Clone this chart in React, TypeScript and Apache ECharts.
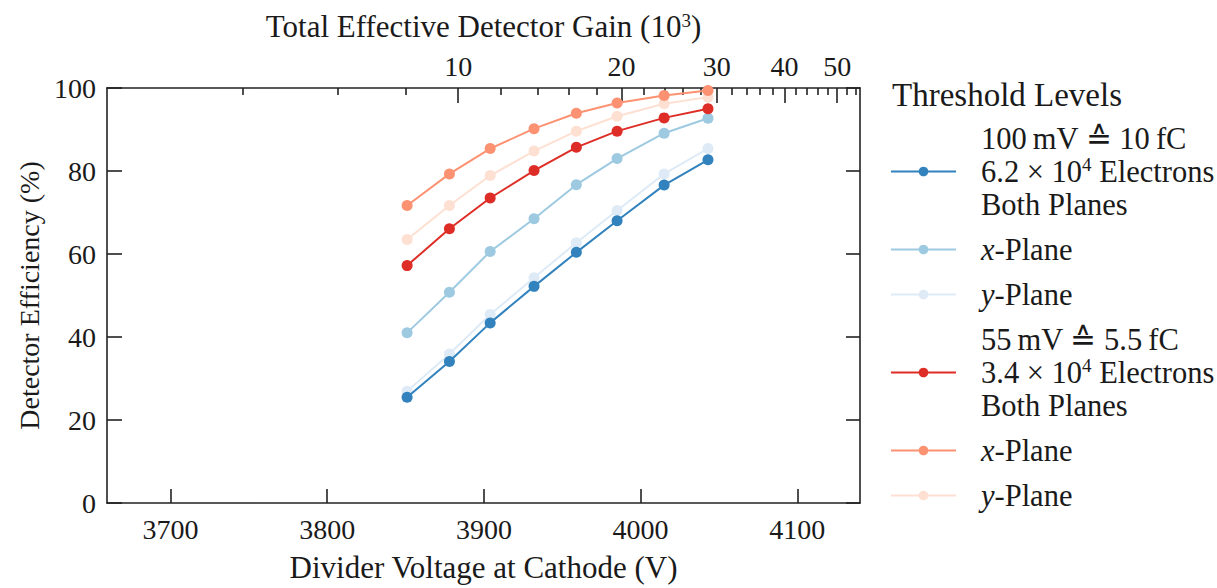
import React, { useEffect, useRef } from 'react';
import * as echarts from 'echarts';

// ---- data ----
const voltages = [3851, 3878, 3904, 3932, 3959, 3985, 4015, 4043];
const both100 = [25.5, 34.1, 43.4, 52.2, 60.4, 68.0, 76.6, 82.7];
const x100 = [41.0, 50.8, 60.6, 68.5, 76.7, 83.0, 89.1, 92.7];
const y100 = [26.9, 35.9, 45.4, 54.3, 62.7, 70.5, 79.3, 85.4];
const both55 = [57.2, 66.1, 73.5, 80.1, 85.7, 89.6, 92.8, 95.0];
const x55 = [71.7, 79.3, 85.4, 90.2, 93.9, 96.4, 98.2, 99.4];
const y55 = [63.5, 71.7, 78.9, 84.8, 89.6, 93.2, 96.2, 97.8];

const voltageTicks = [3700, 3800, 3900, 4000, 4100];
const voltageRange = [3659.5, 4140];
const gainMajorTicks = [10, 20, 30, 40, 50];
const gainMinorTicks = [4, 6, 8, 12, 14, 16, 18, 22, 24, 26, 28, 32, 34, 36, 38, 42, 44, 46, 48, 52, 54];
const gainRange = [2.2515, 55.09];

const seriesNames = ['b100', 'x100', 'y100', 'b55', 'x55', 'y55'];
const seriesValues = [both100, x100, y100, both55, x55, y55];
const seriesLabels = [
  '100\u2009mV \u2259 10\u2009fC\n6.2 \u00d7 10{sup|4} Electrons\nBoth Planes',
  '{i|x}-Plane',
  '{i|y}-Plane',
  '55\u2009mV \u2259 5.5\u2009fC\n3.4 \u00d7 10{sup|4} Electrons\nBoth Planes',
  '{i|x}-Plane',
  '{i|y}-Plane',
];
const seriesColors = ['#3182bd', '#9ecae1', '#deebf7', '#de2d26', '#fc9272', '#fee0d2'];
const seriesZ = [5, 4, 3, 5, 4, 3];

const FONT = 'Liberation Serif';
const TXT = '#1a1a1a';
const AX = '#222';

export default function App() {
  const ref = useRef<HTMLDivElement>(null);
  useEffect(() => {
    if (!ref.current) return;
    const chart = echarts.init(ref.current, undefined, { renderer: 'svg' });
    const lg = Math.log10;
    const labelMap: Record<string, string> = {};
    seriesNames.forEach((n, i) => (labelMap[n] = seriesLabels[i]));

    const axisLine = () => ({ show: true, onZero: false, lineStyle: { color: AX, width: 1.6 } });
    const option: any = {
      animation: false,
      backgroundColor: '#fff',
      textStyle: { fontFamily: FONT, color: TXT },
      title: {
        text: 'Threshold Levels',
        left: 887,
        top: 73,
        textStyle: { fontFamily: FONT, fontSize: 33, fontWeight: 'normal', color: TXT },
      },
      legend: {
        orient: 'vertical',
        left: 885,
        top: 117,
        itemWidth: 65,
        itemHeight: 12,
        itemGap: 12,
        data: seriesNames,
        formatter: (n: string) => labelMap[n],
        textStyle: {
          fontFamily: FONT,
          fontSize: 30.5,
          lineHeight: 33,
          color: TXT,
          padding: [0, 0, 0, 20],
          rich: {
            sup: { fontSize: 19, lineHeight: 33, verticalAlign: 'top', fontFamily: FONT, color: TXT },
            i: { fontSize: 30.5, lineHeight: 33, fontStyle: 'italic', fontFamily: FONT, color: TXT },
          },
        },
      },
      grid: { left: 107, top: 88, right: 357, bottom: 81 },
      xAxis: [
        {
          type: 'value',
          position: 'bottom',
          min: voltageRange[0],
          max: voltageRange[1],
          name: 'Divider Voltage at Cathode (V)',
          nameLocation: 'middle',
          nameGap: 49,
          nameTextStyle: { fontFamily: FONT, fontSize: 31, color: TXT },
          axisLine: axisLine(),
          axisTick: { show: true, inside: true, length: 14, customValues: voltageTicks, lineStyle: { color: AX, width: 1.6 } },
          axisLabel: {
            customValues: voltageTicks,
            formatter: (v: number) => String(v),
            margin: 12,
            fontFamily: FONT,
            fontSize: 28,
            color: TXT,
          },
          splitLine: { show: false },
        },
        {
          type: 'value',
          position: 'top',
          min: lg(gainRange[0]),
          max: lg(gainRange[1]),
          name: 'Total Effective Detector Gain (10{sup|3})',
          nameLocation: 'middle',
          nameGap: 46,
          nameTextStyle: {
            fontFamily: FONT,
            fontSize: 31,
            color: TXT,
            rich: { sup: { fontSize: 19, verticalAlign: 'top', lineHeight: 30, fontFamily: FONT, color: TXT } },
          },
          axisLine: axisLine(),
          axisTick: {
            show: true,
            inside: true,
            length: 15,
            customValues: gainMajorTicks.map(lg),
            lineStyle: { color: AX, width: 1.6 },
          },
          axisLabel: {
            customValues: gainMajorTicks.map(lg),
            formatter: (v: number) => String(Math.round(Math.pow(10, v))),
            margin: 8,
            fontFamily: FONT,
            fontSize: 28,
            color: TXT,
          },
          splitLine: { show: false },
        },
        {
          type: 'value',
          position: 'top',
          min: lg(gainRange[0]),
          max: lg(gainRange[1]),
          axisLine: { show: false, onZero: false },
          axisTick: {
            show: true,
            inside: true,
            length: 7,
            customValues: gainMinorTicks.map(lg),
            lineStyle: { color: AX, width: 1.6 },
          },
          axisLabel: { show: false },
          splitLine: { show: false },
        },
      ],
      yAxis: [
        {
          type: 'value',
          min: 0,
          max: 100,
          interval: 20,
          name: 'Detector Efficiency (%)',
          nameLocation: 'middle',
          nameGap: 58,
          nameTextStyle: { fontFamily: FONT, fontSize: 28, color: TXT },
          axisLine: axisLine(),
          axisTick: { show: true, inside: true, length: 15, lineStyle: { color: AX, width: 1.6 } },
          axisLabel: { margin: 11, fontFamily: FONT, fontSize: 28, color: TXT },
          splitLine: { show: false },
        },
        {
          type: 'value',
          position: 'right',
          min: 0,
          max: 100,
          interval: 20,
          axisLine: axisLine(),
          axisTick: { show: true, inside: true, length: 14, lineStyle: { color: AX, width: 1.6 } },
          axisLabel: { show: false },
          splitLine: { show: false },
        },
      ],
      series: seriesNames.map((n, i) => ({
        name: n,
        type: 'line',
        xAxisIndex: 0,
        yAxisIndex: 0,
        z: seriesZ[i],
        symbol: 'circle',
        symbolSize: 11,
        showSymbol: true,
        lineStyle: { width: 2, color: seriesColors[i] },
        itemStyle: { color: seriesColors[i] },
        emphasis: { disabled: true },
        data: voltages.map((v, j) => [v, seriesValues[i][j]]),
      })),
    };
    chart.setOption(option);
    return () => chart.dispose();
  }, []);
  return <div ref={ref} style={{ position: 'absolute', left: 0, top: 0, width: 1217, height: 588 }} />;
}
